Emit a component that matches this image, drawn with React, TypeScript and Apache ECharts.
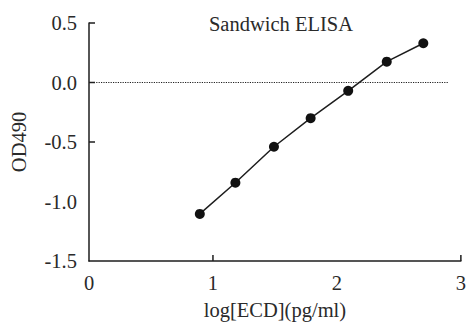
import React, { useEffect, useRef } from "react";
import * as echarts from "echarts";

const titleText = "Sandwich ELISA";
const xName = "log[ECD](pg/ml)";
const yName = "OD490";
const xValues = [0.894, 1.181, 1.492, 1.788, 2.091, 2.402, 2.697];
const yValues = [-1.104, -0.842, -0.54, -0.3, -0.07, 0.175, 0.33];
const xTicks = [1, 3];
const yTicks = [0.5, 0, -0.5];
const refLineEnd = 2.9;

const FONT = "Liberation Serif";
const TEXT = "#2a2a2a";
const LINE = "#1e1e1e";

export default function App() {
  const ref = useRef<HTMLDivElement>(null);
  useEffect(() => {
    if (!ref.current) return;
    const chart = echarts.init(ref.current, null, { renderer: "svg" });
    chart.setOption({
      animation: false,
      backgroundColor: "#ffffff",
      textStyle: { fontFamily: FONT },
      title: {
        text: titleText,
        left: 276,
        textAlign: "center",
        top: 8,
        textStyle: { fontFamily: FONT, fontSize: 20.5, fontWeight: "normal", color: TEXT },
      },
      grid: { left: 87, right: 6, top: 23, bottom: 58, containLabel: false },
      xAxis: {
        type: "value",
        min: 0,
        max: 3,
        interval: 1,
        name: xName,
        nameLocation: "middle",
        nameGap: 38,
        nameTextStyle: { fontFamily: FONT, fontSize: 20.5, color: TEXT },
        axisLine: { show: true, onZero: false, lineStyle: { color: LINE, width: 1.5 } },
        axisTick: { show: false },
        splitLine: { show: false },
        axisLabel: { fontFamily: FONT, fontSize: 20.5, color: TEXT, margin: 11 },
      },
      yAxis: {
        type: "value",
        min: -1.5,
        max: 0.5,
        interval: 0.5,
        name: yName,
        nameLocation: "middle",
        nameGap: 60,
        nameTextStyle: { fontFamily: FONT, fontSize: 20.5, color: TEXT },
        axisLine: { show: true, onZero: false, lineStyle: { color: LINE, width: 1.5 } },
        axisTick: { show: false },
        splitLine: { show: false },
        axisLabel: {
          fontFamily: FONT,
          fontSize: 20.5,
          color: TEXT,
          margin: 12,
          padding: [8, 0, 0, 0],
          formatter: (v: number) => v.toFixed(1),
        },
      },
      series: [
        {
          type: "line",
          data: xValues.map((x, i) => [x, yValues[i]]),
          symbol: "circle",
          symbolSize: 10,
          itemStyle: { color: "#111" },
          lineStyle: { color: LINE, width: 1.5 },
          markLine: {
            silent: true,
            symbol: "none",
            label: { show: false },
            lineStyle: { color: "#222", type: "dotted", width: 1.2 },
            data: [[{ coord: [0, 0] }, { coord: [refLineEnd, 0] }]],
          },
          z: 3,
        },
        {
          type: "custom",
          clip: false,
          data: xTicks.map((v) => [v, -1.5]),
          renderItem: (params: any, api: any) => {
            const p = api.coord([api.value(0), api.value(1)]);
            return {
              type: "line",
              shape: { x1: p[0], y1: p[1], x2: p[0], y2: p[1] - 6 },
              style: { stroke: LINE, lineWidth: 1.5 },
            };
          },
          z: 2,
        },
        {
          type: "custom",
          clip: false,
          data: yTicks.map((v) => [0, v]),
          renderItem: (params: any, api: any) => {
            const p = api.coord([api.value(0), api.value(1)]);
            return {
              type: "line",
              shape: { x1: p[0], y1: p[1], x2: p[0] + 6, y2: p[1] },
              style: { stroke: LINE, lineWidth: 1.5 },
            };
          },
          z: 2,
        },
      ],
    });
    return () => chart.dispose();
  }, []);
  return <div ref={ref} style={{ width: 469, height: 325, position: "absolute", left: 0, top: 0 }} />;
}
